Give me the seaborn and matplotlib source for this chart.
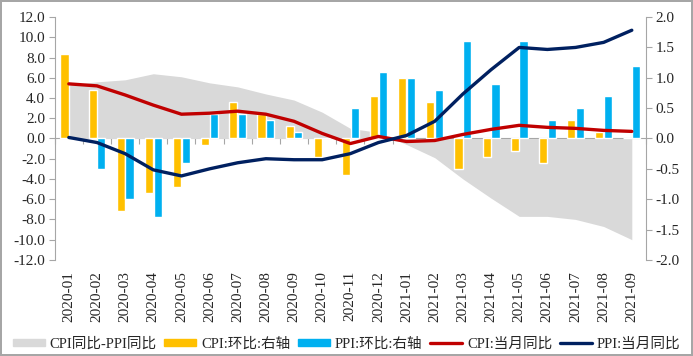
import numpy as np
import pandas as pd
import matplotlib.pyplot as plt
import seaborn as sns
from matplotlib.patches import Patch
from matplotlib.lines import Line2D
from matplotlib.ticker import FormatStrFormatter

months = ["2020-01", "2020-02", "2020-03", "2020-04", "2020-05", "2020-06", "2020-07",
          "2020-08", "2020-09", "2020-10", "2020-11", "2020-12", "2021-01", "2021-02",
          "2021-03", "2021-04", "2021-05", "2021-06", "2021-07", "2021-08", "2021-09"]
cpi_yoy = [5.4, 5.2, 4.3, 3.3, 2.4, 2.5, 2.7, 2.4, 1.7, 0.5, -0.5, 0.2, -0.3, -0.2,
           0.4, 0.9, 1.3, 1.1, 1.0, 0.8, 0.7]
ppi_yoy = [0.1, -0.4, -1.5, -3.1, -3.7, -3.0, -2.4, -2.0, -2.1, -2.1, -1.5, -0.4, 0.3, 1.7,
           4.4, 6.8, 9.0, 8.8, 9.0, 9.5, 10.7]
spread = [5.3, 5.6, 5.8, 6.4, 6.1, 5.5, 5.1, 4.4, 3.8, 2.6, 1.0, 0.6, -0.6, -1.9,
          -4.0, -5.9, -7.7, -7.7, -8.0, -8.7, -10.0]
cpi_mom = [1.4, 0.8, -1.2, -0.9, -0.8, -0.1, 0.6, 0.4, 0.2, -0.3, -0.6, 0.7, 1.0, 0.6,
           -0.5, -0.3, -0.2, -0.4, 0.3, 0.1, 0.0]
ppi_mom = [0.0, -0.5, -1.0, -1.3, -0.4, 0.4, 0.4, 0.3, 0.1, 0.0, 0.5, 1.1, 1.0, 0.8,
           1.6, 0.9, 1.6, 0.3, 0.5, 0.7, 1.2]

names = ["CPI同比-PPI同比", "CPI:环比:右轴", "PPI:环比:右轴", "CPI:当月同比", "PPI:当月同比"]
colors = ["#D9D9D9", "#FFC000", "#00B0F0", "#C00000", "#002060"]
grey = "#A6A6A6"

sns.set_style("white")
plt.rcParams["font.family"] = ["Liberation Serif", "Noto Sans CJK SC"]
plt.rcParams["font.size"] = 11

n = len(months)
idx = np.arange(n)

fig = plt.figure(figsize=(6.93, 3.56), dpi=100)
ax = fig.add_axes([0.079, 0.270, 0.853, 0.682])
ax2 = ax.twinx()
ax3 = ax.twinx()

# grey spread area (left axis)
ax.fill_between(idx, 0, spread, color=colors[0], lw=0)

# month-on-month bars (right axis)
bars = pd.DataFrame({
    "month": months * 2,
    "value": cpi_mom + ppi_mom,
    "series": [names[1]] * n + [names[2]] * n,
})
sns.barplot(data=bars, x="month", y="value", hue="series", palette=colors[1:3],
            ax=ax2, width=0.62, gap=0.06, saturation=1, legend=False)

# year-on-year lines (left axis scale, on top)
lines = pd.DataFrame({"i": idx, "cpi": cpi_yoy, "ppi": ppi_yoy})
sns.lineplot(data=lines, x="i", y="cpi", color=colors[3], lw=2.4, ax=ax3)
sns.lineplot(data=lines, x="i", y="ppi", color=colors[4], lw=2.4, ax=ax3)

ax.set_xlim(-0.5, n - 0.5)
ax.set_ylim(-12, 12)
ax.set_yticks(np.arange(-12, 12.1, 2))
ax.yaxis.set_major_formatter(FormatStrFormatter("%.1f"))
ax2.set_ylim(-2, 2)
ax2.set_yticks(np.arange(-2, 2.01, 0.5))
ax2.yaxis.set_major_formatter(FormatStrFormatter("%.1f"))
ax3.set_ylim(-12, 12)
ax3.set_yticks([])

ax.set_xticks(idx)
ax.set_xticklabels(months, rotation=90)
ax.tick_params(axis="x", length=0, pad=8, labelsize=11)
ax.tick_params(axis="y", length=4, color=grey, direction="out", labelsize=11, pad=3)
ax2.tick_params(axis="y", length=4, color=grey, direction="out", labelsize=11, pad=3)

for a in (ax, ax2, ax3):
    a.set_xlabel("")
    a.set_ylabel("")
    for s in a.spines.values():
        s.set_visible(False)
ax.spines["left"].set_visible(True)
ax.spines["left"].set_color(grey)
ax2.spines["right"].set_visible(True)
ax2.spines["right"].set_color(grey)

# zero line with category boundary ticks
sec = ax.secondary_xaxis(0.5)
sec.set_alignment("bottom")
sec.set_xticks(np.arange(n + 1) - 0.5)
sec.tick_params(length=4, direction="out", color=grey, labelbottom=False)
sec.spines["bottom"].set_color(grey)

handles = [
    Patch(color=colors[0]),
    Patch(color=colors[1]),
    Patch(color=colors[2]),
    Line2D([], [], color=colors[3], lw=2.4),
    Line2D([], [], color=colors[4], lw=2.4),
]
fig.legend(handles, names, loc="lower center", bbox_to_anchor=(0.5, -0.022), ncol=5,
           frameon=False, handlelength=2.2, handleheight=0.45, handletextpad=0.35,
           columnspacing=0.5, fontsize=10.5)

fig.patch.set_edgecolor(grey)
fig.patch.set_linewidth(1.5)

plt.savefig("out.png", dpi=100)
